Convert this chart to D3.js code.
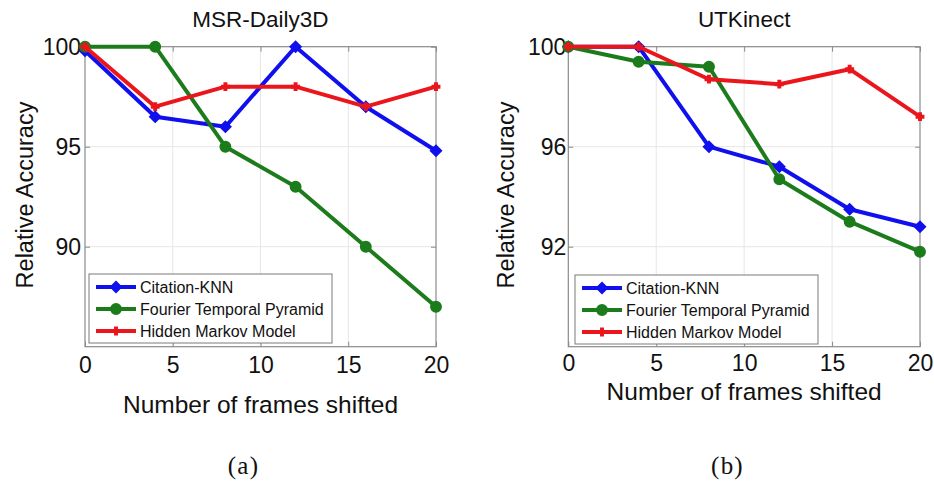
<!DOCTYPE html>
<html>
<head>
<meta charset="utf-8">
<script src="https://cdn.jsdelivr.net/npm/d3@7"></script>
<style>
  html, body { margin: 0; padding: 0; background: #fff; }
  svg { display: block; }
  text { font-family: "Liberation Sans", Arial, sans-serif; fill: #111; }
</style>
</head>
<body>
<svg id="fig" width="934" height="483"></svg>
<script>
// Frames shifted (x axis) and tick labels
const framesShifted = [0, 4, 8, 12, 16, 20];
const xTicks = [0, 5, 10, 15, 20];

// Series names
const seriesNames = ["Citation-KNN", "Fourier Temporal Pyramid", "Hidden Markov Model"];
const seriesColors = ["#1010ee", "#1c7c1c", "#ea161c"];

// MSR-Daily3D relative accuracy
const msrCitationKNN = [99.8, 96.5, 96.0, 100, 97.0, 94.8];
const msrFourier = [100, 100, 95.0, 93.0, 90.0, 87.0];
const msrHMM = [100, 97.0, 98.0, 98.0, 97.0, 98.0];
const msrYTicks = [90, 95, 100];

// UTKinect relative accuracy
const utkCitationKNN = [100, 100, 96.0, 95.2, 93.5, 92.8];
const utkFourier = [100, 99.4, 99.2, 94.7, 93.0, 91.8];
const utkHMM = [100, 100, 98.7, 98.5, 99.1, 97.2];
const utkYTicks = [92, 96, 100];

const svg = d3.select("#fig");
const FONT = "Liberation Sans, Arial, sans-serif";

// marker shapes: diamond (rotated square), circle, small plus
const markerPath = [
  () => d3.symbol().type(d3.symbolSquare).size(60)(),
  () => d3.symbol().type(d3.symbolCircle).size(85)(),
  () => d3.symbol().type(d3.symbolCross).size(30)()
];
const markerRot = [45, 0, 0];

function drawPanel(opt) {
  const g = svg.append("g");
  const x = d3.scaleLinear().domain([0, 20]).range([opt.left, opt.right]);
  const y = d3.scaleLinear().domain(opt.yDomain).range([opt.bottom, opt.top]);

  // grid
  g.append("g").selectAll("line").data(xTicks.slice(1, -1)).join("line")
    .attr("x1", d => x(d)).attr("x2", d => x(d))
    .attr("y1", opt.top).attr("y2", opt.bottom)
    .attr("stroke", "#e6e6e6").attr("stroke-width", 1);
  g.append("g").selectAll("line").data(opt.yTicks.slice(0, -1)).join("line")
    .attr("x1", opt.left).attr("x2", opt.right)
    .attr("y1", d => y(d)).attr("y2", d => y(d))
    .attr("stroke", "#e6e6e6").attr("stroke-width", 1);

  // frame box
  g.append("rect")
    .attr("x", opt.left).attr("y", opt.top)
    .attr("width", opt.right - opt.left).attr("height", opt.bottom - opt.top)
    .attr("fill", "none").attr("stroke", "#8a8a8a").attr("stroke-width", 1.2);

  // axes (ticks inward, labels outside)
  const gx = g.append("g").attr("transform", `translate(0,${opt.bottom})`)
    .call(d3.axisBottom(x).tickValues(xTicks).tickSize(-5).tickPadding(opt.xPad));
  gx.select(".domain").remove();
  gx.selectAll(".tick line").attr("stroke", "#8a8a8a");
  gx.selectAll("text").attr("font-size", 23).attr("fill", "#111").attr("font-family", FONT);

  const gxTop = g.append("g").attr("transform", `translate(0,${opt.top})`)
    .call(d3.axisTop(x).tickValues(xTicks).tickSize(-5).tickFormat(""));
  gxTop.select(".domain").remove();
  gxTop.selectAll(".tick line").attr("stroke", "#8a8a8a");

  const gy = g.append("g").attr("transform", `translate(${opt.left},0)`)
    .call(d3.axisLeft(y).tickValues(opt.yTicks).tickSize(-5).tickPadding(opt.yPad));
  gy.select(".domain").remove();
  gy.selectAll(".tick line").attr("stroke", "#8a8a8a");
  gy.selectAll("text").attr("font-size", 23).attr("fill", "#111").attr("font-family", FONT);

  const gyR = g.append("g").attr("transform", `translate(${opt.right},0)`)
    .call(d3.axisRight(y).tickValues(opt.yTicks).tickSize(-5).tickFormat(""));
  gyR.select(".domain").remove();
  gyR.selectAll(".tick line").attr("stroke", "#8a8a8a");

  // title and axis labels
  g.append("text").attr("x", (opt.left + opt.right) / 2).attr("y", 27)
    .attr("text-anchor", "middle").attr("font-size", 22.5).text(opt.title);
  g.append("text").attr("x", (opt.left + opt.right) / 2).attr("y", opt.xLabelY)
    .attr("text-anchor", "middle").attr("font-size", 24.5).text("Number of frames shifted");
  g.append("text")
    .attr("transform", `translate(${opt.yLabelX},195) rotate(-90)`)
    .attr("text-anchor", "middle").attr("font-size", 23.5).text("Relative Accuracy");

  // lines and markers
  const line = d3.line().x((d, i) => x(framesShifted[i])).y(d => y(d));
  opt.series.forEach((vals, k) => {
    g.append("path").datum(vals).attr("d", line)
      .attr("fill", "none").attr("stroke", seriesColors[k])
      .attr("stroke-width", 4).attr("stroke-linejoin", "round");
    g.append("g").selectAll("path").data(vals).join("path")
      .attr("transform", (d, i) => `translate(${x(framesShifted[i])},${y(d)}) rotate(${markerRot[k]})`)
      .attr("d", markerPath[k]())
      .attr("fill", seriesColors[k]).attr("stroke", seriesColors[k]).attr("stroke-width", 1.5);
  });

  // legend
  const lg = g.append("g");
  lg.append("rect").attr("x", opt.legend.x).attr("y", opt.legend.y)
    .attr("width", 243).attr("height", 69)
    .attr("fill", "#fff").attr("stroke", "#7a7a7a").attr("stroke-width", 1);
  seriesNames.forEach((name, k) => {
    const cy = opt.legend.y + 13 + k * 22;
    const sx = opt.legend.x + 7;
    lg.append("line").attr("x1", sx).attr("x2", sx + 40).attr("y1", cy).attr("y2", cy)
      .attr("stroke", seriesColors[k]).attr("stroke-width", 4);
    lg.append("path").attr("transform", `translate(${sx + 20},${cy}) rotate(${markerRot[k]})`)
      .attr("d", markerPath[k]())
      .attr("fill", seriesColors[k]).attr("stroke", seriesColors[k]).attr("stroke-width", 1.5);
    lg.append("text").attr("x", sx + 44).attr("y", cy + 6)
      .attr("font-size", 16).text(name);
  });

  // panel caption
  svg.append("text").attr("x", opt.captionX).attr("y", 474)
    .attr("text-anchor", "middle").attr("font-size", 25)
    .attr("letter-spacing", 1.2)
    .style("font-family", "'Liberation Serif', 'DejaVu Serif', serif")
    .text(opt.caption);
}

drawPanel({
  title: "MSR-Daily3D", caption: "(a)", captionX: 243.5,
  left: 85, right: 436, top: 46.7, bottom: 346.7,
  yDomain: [85, 100], yTicks: msrYTicks, yPad: 4, xPad: 10,
  series: [msrCitationKNN, msrFourier, msrHMM],
  legend: { x: 89, y: 274 }, xLabelY: 413, yLabelX: 33
});

drawPanel({
  title: "UTKinect", caption: "(b)", captionX: 727.5,
  left: 568.3, right: 920, top: 46.7, bottom: 346.7,
  yDomain: [88, 100], yTicks: utkYTicks, yPad: 2, xPad: 8,
  series: [utkCitationKNN, utkFourier, utkHMM],
  legend: { x: 575, y: 275 }, xLabelY: 400, yLabelX: 514
});
</script>
</body>
</html>
